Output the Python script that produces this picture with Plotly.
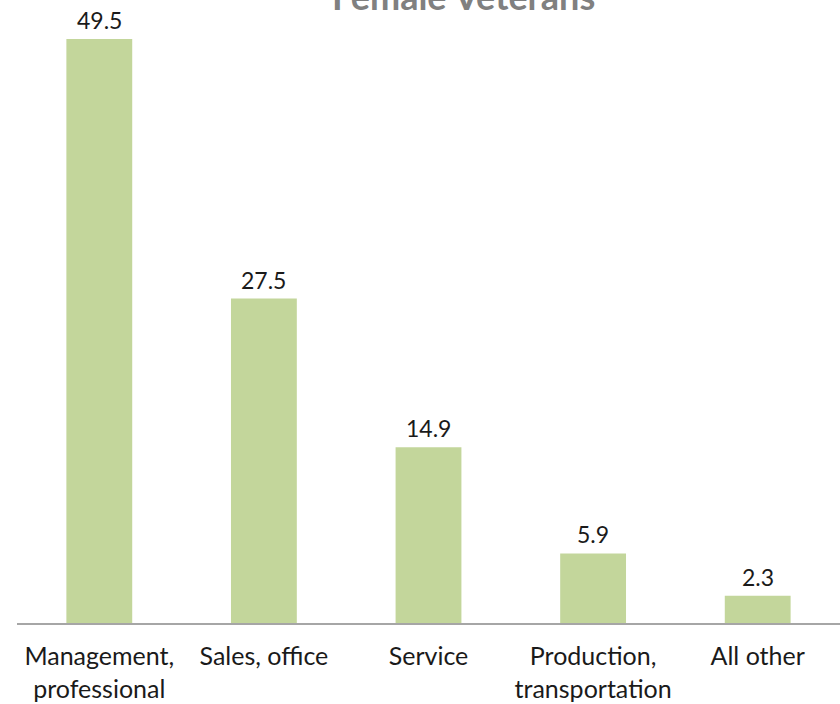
import plotly.graph_objects as go

categories = ["Management,<br>professional", "Sales, office", "Service", "Production,<br>transportation", "All other"]
values = [49.5, 27.5, 14.9, 5.9, 2.3]
labels = ["49.5", "27.5", "14.9", "5.9", "2.3"]
title = "Female Veterans"

FONT = "Lato, Calibri, sans-serif"

fig = go.Figure(go.Bar(
    x=categories, y=values,
    marker=dict(color="#c3d69b", line=dict(width=0)),
    width=0.4,
    hoverinfo="skip",
))

for c, v, t in zip(categories, values, labels):
    fig.add_annotation(x=c, y=v, text=t, showarrow=False, yanchor="bottom",
                       yshift=3, font=dict(family=FONT, size=23, color="#1a1a1a"))

fig.add_annotation(xref="paper", yref="paper", x=0.543, y=1, text="<b>" + title + "</b>",
                   showarrow=False, yanchor="bottom", yshift=-20,
                   font=dict(family=FONT, size=36, color="#808080"))

fig.update_layout(
    width=840, height=704,
    margin=dict(l=17, r=0, t=0, b=81),
    plot_bgcolor="white", paper_bgcolor="white",
    showlegend=False,
    bargap=0.6,
    xaxis=dict(showline=True, linecolor="#a6a6a6", linewidth=2, ticks="",
               ticklabelstandoff=10,
               tickfont=dict(family=FONT, size=25, color="#1a1a1a"), showgrid=False),
    yaxis=dict(range=[0, 52.8], visible=False, showgrid=False, zeroline=False),
)

fig.write_html("out.html", config={"displayModeBar": False},
               post_script="document.body.style.margin='0';")
